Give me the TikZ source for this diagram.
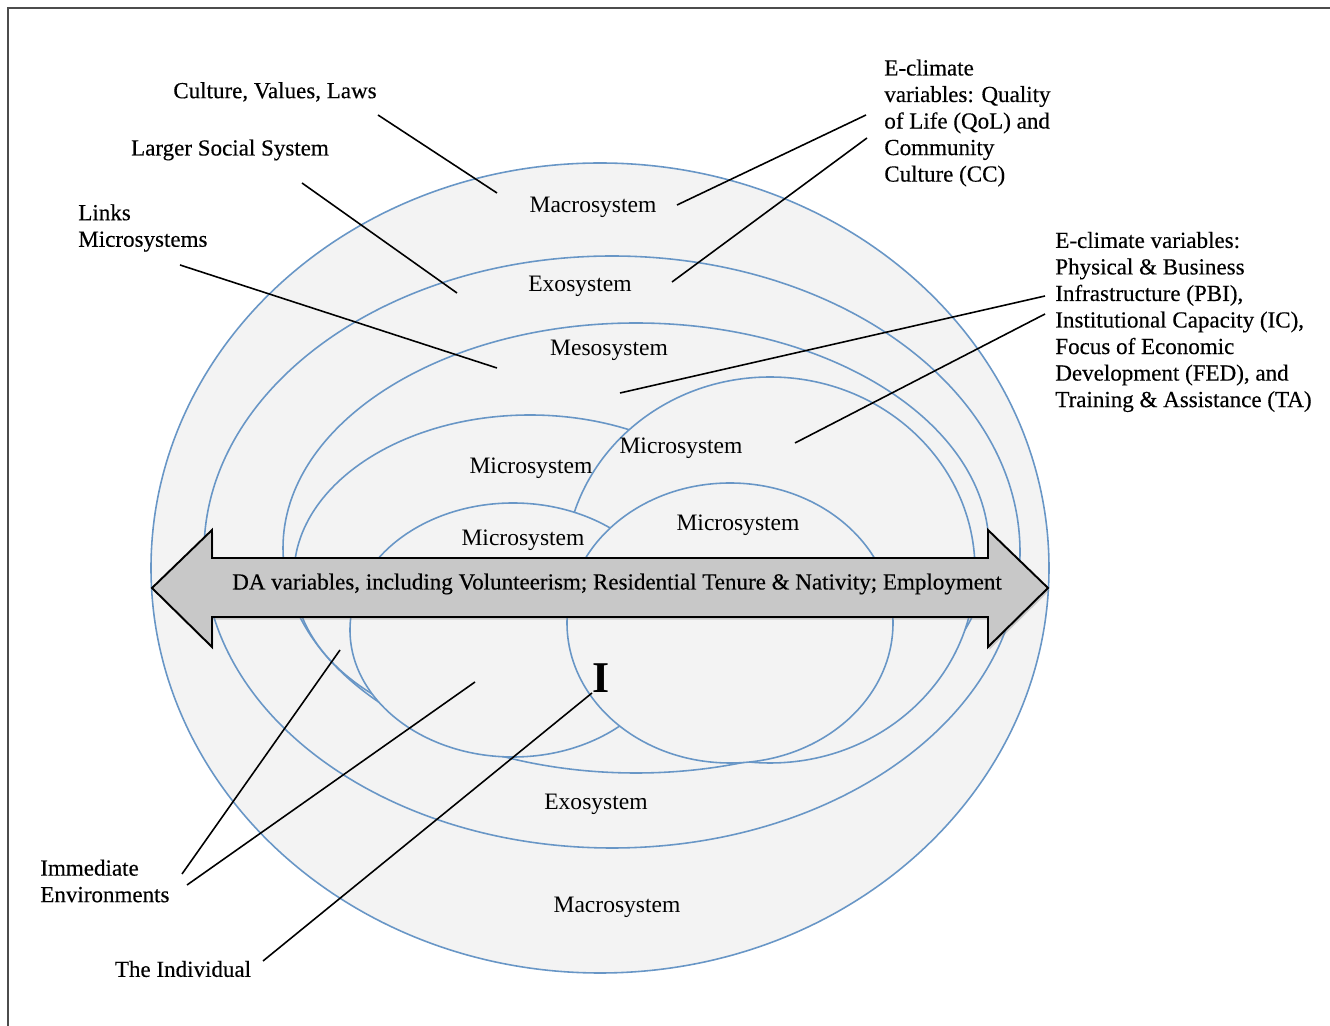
\documentclass[tikz,border=0pt]{standalone}
\usepackage{fontspec}
\setmainfont{Liberation Serif}
\newfontfamily\notefont[FakeBold=0.35]{Liberation Serif}
\usetikzlibrary{shadows}
\definecolor{ringblue}{RGB}{104,150,198}
\definecolor{ringfill}{RGB}{243,243,243}
\definecolor{bargray}{RGB}{200,200,200}
\tikzset{
  ring/.style={draw=ringblue, fill=ringfill, line width=0.9pt},
  sysname/.style={font=\fontsize{13.4}{16}\selectfont, inner sep=0pt},
  note/.style={font=\notefont\fontsize{13.1}{15.1}\selectfont, align=left, inner sep=0pt},
  lead/.style={line width=0.9pt},
}
\begin{document}
\begin{tikzpicture}[x=0.02cm, y=-0.02cm]
    \useasboundingbox (0,0) rectangle (1330,1026);
    \draw[black!70, line width=0.9pt] (8,1026) -- (8,8) -- (1330,8);

    \draw[ring] (600,568) ellipse [x radius=449, y radius=405];
    \draw[ring] (612,552) ellipse [x radius=408, y radius=296];
    \draw[ring] (636,548) ellipse [x radius=353, y radius=225];
    \draw[ring] (530,575) ellipse [x radius=236, y radius=160];
    \draw[ring] (770,570) ellipse [x radius=205, y radius=193];
    \draw[ring] (513,630) ellipse [x radius=163, y radius=127];
    \draw[ring] (730,623) ellipse [x radius=163, y radius=140];

    \draw[fill=bargray, line width=1.1pt, line join=miter,
          drop shadow={shadow xshift=0.8pt, shadow yshift=-1.5pt, opacity=0.35}]
       (152,588) -- (212,530) -- (212,558) -- (988,558) -- (988,530) -- (1048,588)
       -- (988,647) -- (988,617) -- (212,617) -- (212,647) -- cycle;
    \node[note] (davars) at (617,584) {DA variables, including Volunteerism; Residential Tenure \& Nativity; Employment};

    \node[sysname] (macrotop) at (593,207) {Macrosystem};
    \node[sysname] (exotop) at (580,286) {Exosystem};
    \node[sysname] (meso) at (609,350) {Mesosystem};
    \node[sysname] (microul) at (531,468) {Microsystem};
    \node[sysname] (microur) at (681,448) {Microsystem};
    \node[sysname] (microll) at (523,540) {Microsystem};
    \node[sysname] (microlr) at (738,525) {Microsystem};
    \node[sysname] (exobot) at (596,804) {Exosystem};
    \node[sysname] (macrobot) at (617,907) {Macrosystem};
    \node[font=\bfseries\fontsize{25}{25}\selectfont, inner sep=0pt] (indiv) at (601,678) {I};

    \node[note] (culture) at (275,92) {Culture, Values, Laws};
    \node[note] (larger) at (230,150) {Larger Social System};
    \node[note, anchor=west] (links) at (78,228) {Links\\Microsystems};
    \node[note, anchor=west] (qol) at (884,123) {E-climate\\variables: Quality\\of Life (QoL) and\\Community\\Culture (CC)};
    \node[note, anchor=west] (pbi) at (1055,322) {E-climate variables:\\Physical \& Business\\Infrastructure (PBI),\\Institutional Capacity (IC),\\Focus of Economic\\Development (FED), and\\Training \& Assistance (TA)};
    \node[note, anchor=west] (immed) at (40,881) {Immediate\\Environments};
    \node[note] (individual) at (183,969) {The Individual};

    \coordinate (cultureA) at (378,115);
    \coordinate (cultureB) at (497,193);
    \coordinate (largerA) at (302,183);
    \coordinate (largerB) at (457,293);
    \coordinate (linksA) at (180,265);
    \coordinate (linksB) at (497,368);
    \coordinate (qolA) at (866,115);
    \coordinate (qolB) at (677,205);
    \coordinate (qolC) at (867,138);
    \coordinate (qolD) at (672,282);
    \coordinate (pbiA) at (1045,296);
    \coordinate (pbiB) at (620,393);
    \coordinate (pbiC) at (1045,314);
    \coordinate (pbiD) at (795,443);
    \coordinate (immedA) at (182,874);
    \coordinate (immedB) at (340,650);
    \coordinate (immedC) at (187,885);
    \coordinate (immedD) at (475,682);
    \coordinate (indivA) at (263,961);
    \coordinate (indivB) at (592,693);

    \draw[lead] (cultureA) -- (cultureB);
    \draw[lead] (largerA) -- (largerB);
    \draw[lead] (linksA) -- (linksB);
    \draw[lead] (qolA) -- (qolB);
    \draw[lead] (qolC) -- (qolD);
    \draw[lead] (pbiA) -- (pbiB);
    \draw[lead] (pbiC) -- (pbiD);
    \draw[lead] (immedA) -- (immedB);
    \draw[lead] (immedC) -- (immedD);
    \draw[lead] (indivA) -- (indivB);
\end{tikzpicture}
\end{document}
